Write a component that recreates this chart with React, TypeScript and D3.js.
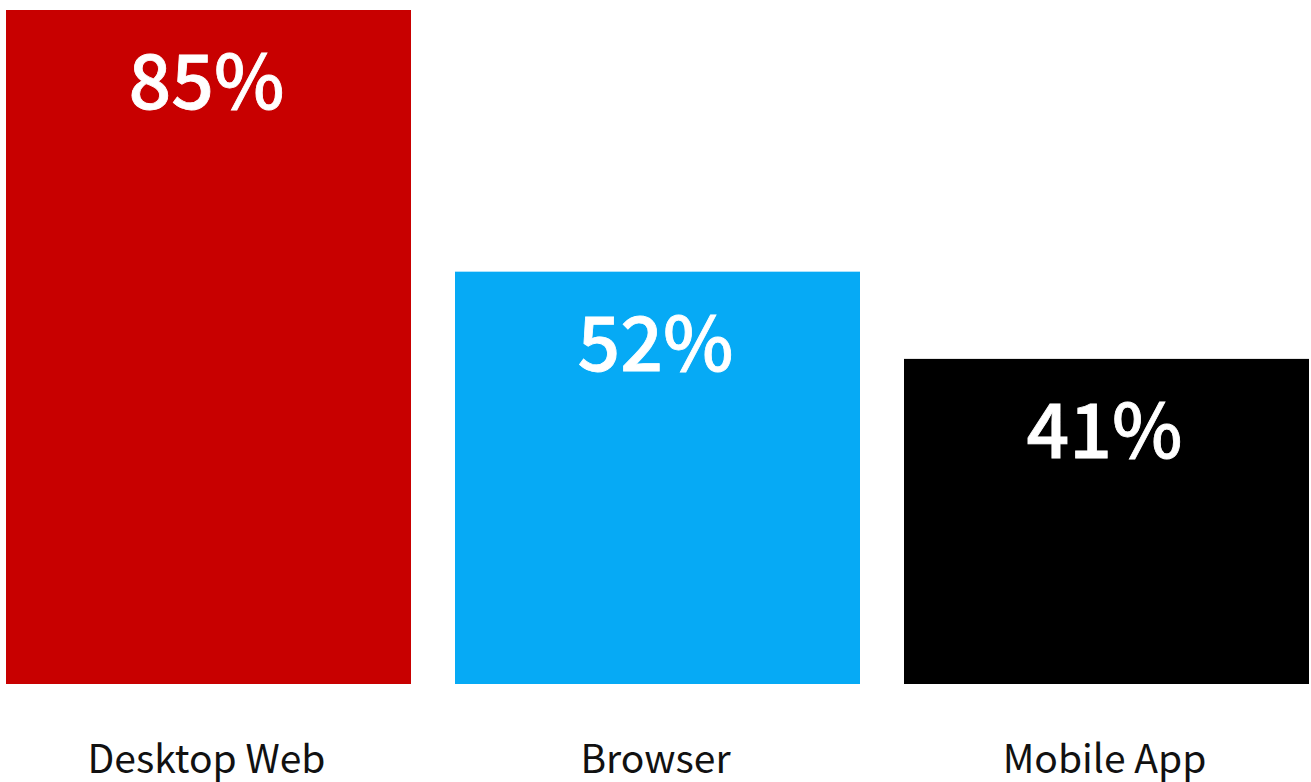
import React from "react";
import * as d3 from "d3";

const categories = ["Desktop Web", "Browser", "Mobile App"];
const values = [85, 52, 41];
const colors = ["#c80000", "#06aaf5", "#000000"];

const W = 1311;
const H = 782;

export default function App() {
  const x = d3
    .scaleBand<string>()
    .domain(categories)
    .range([6, 1309])
    .paddingInner(0.098)
    .paddingOuter(0);
  const y = d3.scaleLinear().domain([0, 85]).range([684, 10]);
  const font = "'Noto Sans CJK SC', 'Source Sans Pro', 'Noto Sans', sans-serif";
  return (
    <svg
      width={W}
      height={H}
      style={{ position: "absolute", left: 0, top: 0, display: "block" }}
    >
      {categories.map((c, i) => {
        const bx = x(c)!;
        const bw = x.bandwidth();
        const top = y(values[i]);
        return (
          <g key={c}>
            <rect x={bx} y={top} width={bw} height={y(0) - top} fill={colors[i]} />
            <text
              x={bx + bw / 2 - 2}
              y={top + 99}
              textAnchor="middle"
              fill="#fff"
              stroke="#fff"
              strokeWidth={0.8}
              fontFamily={font}
              fontWeight={500}
              fontSize={75}
            >
              {values[i]}%
            </text>
            <text
              x={bx + bw / 2 - 2}
              y={773}
              textAnchor="middle"
              fill="#111"
              fontFamily={font}
              fontWeight={400}
              fontSize={39}
            >
              {c}
            </text>
          </g>
        );
      })}
    </svg>
  );
}
